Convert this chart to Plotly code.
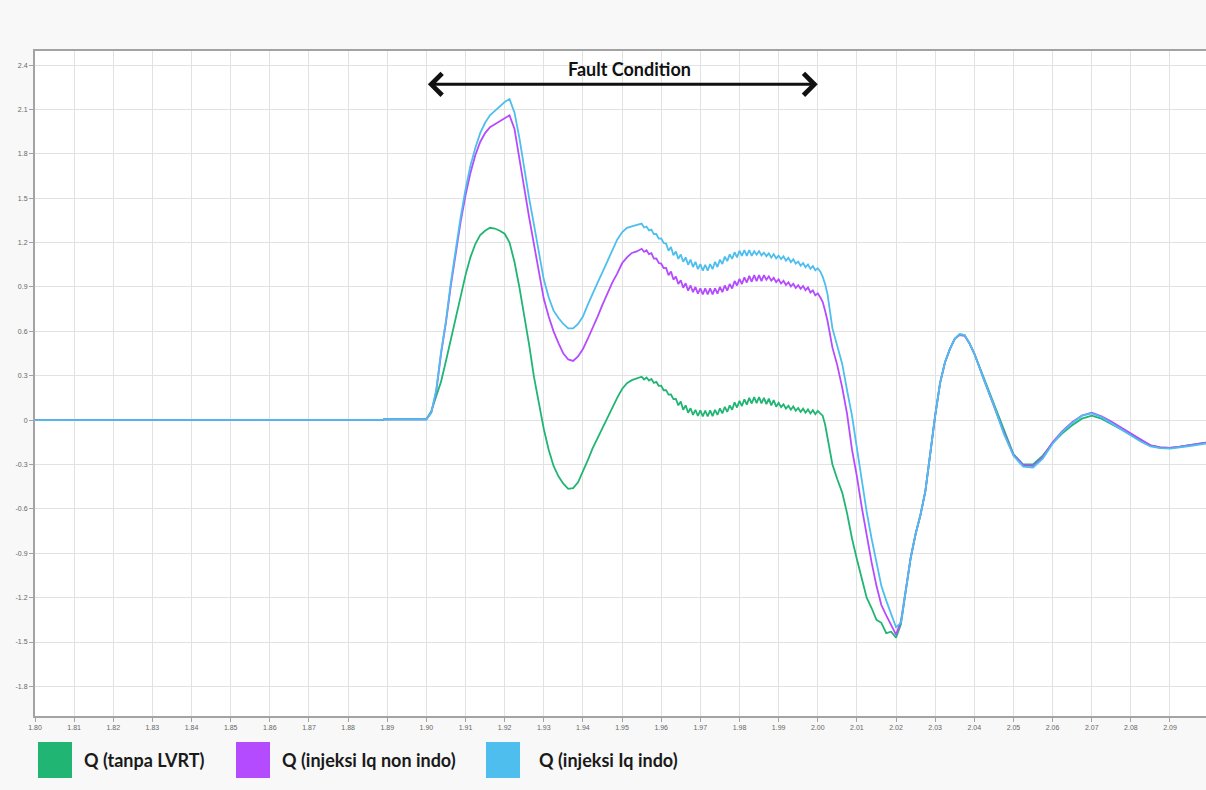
import plotly.graph_objects as go

# ---------------- data ----------------
time_s = [
    1.800, 1.849, 1.8492, 1.870, 1.8705, 1.889, 1.8892,
    1.90000, 1.90125, 1.90250, 1.90375, 1.90500, 1.90625, 1.90750, 1.90875,
    1.91000, 1.91125, 1.91250, 1.91375, 1.91500, 1.91625, 1.91750, 1.91875,
    1.92000, 1.92125, 1.92250, 1.92375, 1.92500, 1.92625, 1.92750, 1.92875,
    1.93000, 1.93125, 1.93250, 1.93375, 1.93500, 1.93625, 1.93750, 1.93875,
    1.94000, 1.94125, 1.94250, 1.94375, 1.94500, 1.94625, 1.94750, 1.94875,
    1.95000, 1.95125, 1.95250, 1.95375,
    1.955000, 1.955625, 1.956250, 1.956875, 1.957500, 1.958125, 1.958750, 1.959375,
    1.960000, 1.960625, 1.961250, 1.961875, 1.962500, 1.963125, 1.963750, 1.964375,
    1.965000, 1.965625, 1.966250, 1.966875, 1.967500, 1.968125, 1.968750, 1.969375,
    1.970000, 1.970625, 1.971250, 1.971875, 1.972500, 1.973125, 1.973750, 1.974375,
    1.975000, 1.975625, 1.976250, 1.976875, 1.977500, 1.978125, 1.978750, 1.979375,
    1.980000, 1.980625, 1.981250, 1.981875, 1.982500, 1.983125, 1.983750, 1.984375,
    1.985000, 1.985625, 1.986250, 1.986875, 1.987500, 1.988125, 1.988750, 1.989375,
    1.990000, 1.990625, 1.991250, 1.991875, 1.992500, 1.993125, 1.993750, 1.994375,
    1.995000, 1.995625, 1.996250, 1.996875, 1.997500, 1.998125, 1.998750, 1.999375,
    2.000000, 2.000625, 2.001250, 2.001875, 2.002500,
    2.00375, 2.00500, 2.00625, 2.00750, 2.00875, 2.01000, 2.01125, 2.01250,
    2.01375, 2.01500, 2.01625, 2.01750, 2.01875, 2.02000, 2.02125, 2.02250,
    2.02375, 2.02500, 2.02625, 2.02750, 2.02875, 2.03000, 2.03125, 2.03250,
    2.03375, 2.03500, 2.03625, 2.03750, 2.03875, 2.04000,
    2.0425, 2.0450, 2.0475, 2.0500, 2.0525, 2.0550, 2.0575, 2.0600,
    2.0625, 2.0650, 2.0675, 2.0700, 2.0725, 2.0750, 2.0775, 2.0800,
    2.0825, 2.0850, 2.0875, 2.0900, 2.0925, 2.0950, 2.0975, 2.1000,
]

q_tanpa_lvrt = [
    0, 0, 0.005, 0.005, 0.002, 0.002, 0.006,
    0.006, 0.06, 0.16, 0.26, 0.40, 0.55, 0.70, 0.85,
    0.98, 1.10, 1.19, 1.25, 1.28, 1.30, 1.295, 1.28,
    1.26, 1.20, 1.07, 0.90, 0.71, 0.51, 0.29, 0.12,
    -0.06, -0.20, -0.31, -0.38, -0.43, -0.465, -0.46, -0.42,
    -0.35, -0.27, -0.19, -0.12, -0.05, 0.02, 0.09, 0.15,
    0.21, 0.25, 0.27, 0.28,
    0.293, 0.275, 0.288, 0.267, 0.278, 0.252, 0.258, 0.232,
    0.233, 0.202, 0.203, 0.172, 0.173, 0.142, 0.143, 0.10,
    0.125, 0.07, 0.10, 0.05, 0.08, 0.035, 0.07, 0.028,
    0.066, 0.025, 0.065, 0.025, 0.066, 0.027, 0.07, 0.035,
    0.08, 0.045, 0.09, 0.055, 0.10, 0.07, 0.12, 0.085,
    0.13, 0.095, 0.14, 0.105, 0.15, 0.112, 0.155, 0.115,
    0.155, 0.113, 0.15, 0.108, 0.145, 0.10, 0.135, 0.09,
    0.117, 0.088, 0.107, 0.078, 0.097, 0.07, 0.092, 0.063,
    0.082, 0.055, 0.077, 0.05, 0.072, 0.045, 0.067, 0.04,
    0.062, 0.045, 0.03, -0.03, -0.12,
    -0.30, -0.40, -0.49, -0.63, -0.80, -0.94, -1.08, -1.20,
    -1.27, -1.35, -1.37, -1.44, -1.43, -1.47, -1.38, -1.16,
    -0.93, -0.77, -0.64, -0.48, -0.22, 0.03, 0.25, 0.39,
    0.48, 0.55, 0.58, 0.575, 0.52, 0.45,
    0.28, 0.11, -0.07, -0.23, -0.30, -0.30, -0.24, -0.155,
    -0.09, -0.035, 0.01, 0.03, 0.01, -0.025, -0.06, -0.10,
    -0.135, -0.17, -0.185, -0.187, -0.18, -0.17, -0.16, -0.15,
]

q_injeksi_non_indo = [
    0, 0, 0.005, 0.005, 0.002, 0.002, 0.006,
    0.006, 0.05, 0.19, 0.45, 0.66, 0.91, 1.13, 1.34,
    1.52, 1.67, 1.79, 1.88, 1.94, 1.98, 2.00, 2.02,
    2.04, 2.06, 1.97, 1.78, 1.57, 1.37, 1.18, 1.00,
    0.82, 0.70, 0.60, 0.52, 0.45, 0.41, 0.40, 0.43,
    0.48, 0.55, 0.62, 0.70, 0.78, 0.86, 0.93, 0.99,
    1.06, 1.10, 1.13, 1.14,
    1.158, 1.137, 1.148, 1.122, 1.128, 1.092, 1.093, 1.062,
    1.058, 1.027, 1.028, 0.98, 1.005, 0.95, 0.97, 0.92,
    0.945, 0.895, 0.925, 0.875, 0.91, 0.865, 0.90, 0.855,
    0.89, 0.85, 0.89, 0.85, 0.89, 0.85, 0.89, 0.855,
    0.90, 0.865, 0.91, 0.875, 0.92, 0.89, 0.94, 0.91,
    0.955, 0.92, 0.965, 0.93, 0.975, 0.935, 0.98, 0.94,
    0.98, 0.94, 0.98, 0.948, 0.972, 0.943, 0.962, 0.933,
    0.952, 0.923, 0.942, 0.913, 0.932, 0.903, 0.922, 0.893,
    0.912, 0.888, 0.907, 0.878, 0.897, 0.863, 0.877, 0.843,
    0.857, 0.83, 0.80, 0.74, 0.67,
    0.49, 0.37, 0.22, 0.04, -0.20, -0.38, -0.59, -0.78,
    -0.96, -1.12, -1.25, -1.32, -1.38, -1.45, -1.36, -1.16,
    -0.93, -0.77, -0.64, -0.48, -0.22, 0.03, 0.25, 0.39,
    0.48, 0.55, 0.575, 0.57, 0.52, 0.45,
    0.27, 0.10, -0.08, -0.235, -0.305, -0.31, -0.25, -0.15,
    -0.075, -0.015, 0.03, 0.05, 0.025, -0.01, -0.05, -0.095,
    -0.135, -0.17, -0.185, -0.188, -0.18, -0.17, -0.16, -0.15,
]

q_injeksi_indo = [
    0, 0, 0.005, 0.005, 0.002, 0.002, 0.006,
    0.006, 0.05, 0.20, 0.46, 0.67, 0.93, 1.16, 1.37,
    1.56, 1.72, 1.84, 1.94, 2.01, 2.06, 2.09, 2.12,
    2.15, 2.17, 2.08, 1.91, 1.70, 1.50, 1.32, 1.13,
    0.95, 0.83, 0.74, 0.69, 0.65, 0.62, 0.62, 0.65,
    0.70, 0.78, 0.86, 0.93, 1.00, 1.07, 1.14, 1.22,
    1.27, 1.30, 1.31, 1.32,
    1.328, 1.302, 1.308, 1.282, 1.288, 1.257, 1.258, 1.227,
    1.228, 1.197, 1.193, 1.145, 1.17, 1.115, 1.14, 1.09,
    1.12, 1.07, 1.10, 1.05, 1.085, 1.035, 1.07, 1.02,
    1.055, 1.01, 1.05, 1.01, 1.055, 1.02, 1.07, 1.035,
    1.085, 1.055, 1.105, 1.075, 1.12, 1.09, 1.135, 1.10,
    1.145, 1.11, 1.15, 1.11, 1.15, 1.11, 1.142, 1.118,
    1.142, 1.113, 1.132, 1.108, 1.127, 1.098, 1.122, 1.093,
    1.112, 1.088, 1.107, 1.078, 1.097, 1.068, 1.087, 1.058,
    1.072, 1.043, 1.062, 1.033, 1.052, 1.023, 1.042, 1.013,
    1.027, 1.005, 0.97, 0.92, 0.85,
    0.62, 0.49, 0.38, 0.20, 0.03, -0.19, -0.42, -0.62,
    -0.80, -0.97, -1.12, -1.22, -1.31, -1.40, -1.37, -1.16,
    -0.93, -0.77, -0.64, -0.48, -0.22, 0.03, 0.25, 0.39,
    0.48, 0.55, 0.58, 0.575, 0.52, 0.45,
    0.27, 0.10, -0.09, -0.24, -0.315, -0.32, -0.26, -0.16,
    -0.08, -0.02, 0.03, 0.045, 0.02, -0.02, -0.06, -0.105,
    -0.145, -0.178, -0.19, -0.192, -0.185, -0.175, -0.165, -0.155,
]

series_names = ["Q (tanpa LVRT)", "Q (injeksi Iq non indo)", "Q (injeksi Iq indo)"]
series_colors = ["#21b573", "#b44bff", "#4dbeee"]
y_tick_values = [2.4, 2.1, 1.8, 1.5, 1.2, 0.9, 0.6, 0.3, 0, -0.3, -0.6, -0.9, -1.2, -1.5, -1.8]
y_tick_labels = ["2.4", "2.1", "1.8", "1.5", "1.2", "0.9", "0.6", "0.3", "0",
                 "-0.3", "-0.6", "-0.9", "-1.2", "-1.5", "-1.8"]
fault_start, fault_end = 1.90, 2.00
fault_label = "Fault Condition"

# ---------------- figure ----------------
W, H = 1206, 790
ML, MR, MT, MB = 35, 0, 51, 74
PW, PH = W - ML - MR, H - MT - MB

fig = go.Figure()
for name, vals, col in zip(series_names,
                           [q_tanpa_lvrt, q_injeksi_non_indo, q_injeksi_indo],
                           series_colors):
    fig.add_trace(go.Scatter(x=time_s, y=vals, mode="lines", name=name,
                             line=dict(color=col, width=1.8), showlegend=False))

axis_col = "#a3a3a3"
grid_col = "#e2e2e2"
tick_font = dict(family="Liberation Sans, Arial, sans-serif", size=7, color="#666666")

fig.update_layout(
    width=W, height=H,
    margin=dict(l=ML, r=MR, t=MT, b=MB, pad=0),
    paper_bgcolor="#f8f8f8",
    plot_bgcolor="#ffffff",
    showlegend=False,
    xaxis=dict(range=[1.80, 2.0992], tick0=1.80, dtick=0.01, tickformat=".2f",
               showgrid=True, gridcolor=grid_col, gridwidth=1,
               showline=True, linecolor=axis_col, linewidth=2, mirror=True,
               ticks="outside", ticklen=4, tickcolor=axis_col,
               zeroline=False, tickfont=tick_font),
    yaxis=dict(range=[-2.0, 2.495], tickmode="array",
               tickvals=y_tick_values, ticktext=y_tick_labels,
               showgrid=True, gridcolor=grid_col, gridwidth=1,
               showline=True, linecolor=axis_col, linewidth=2,
               ticks="outside", ticklen=4, tickcolor=axis_col,
               zeroline=False, tickfont=tick_font),
)

# Fault condition double arrow + label
fig.add_annotation(x=fault_end, y=2.27, ax=fault_start, ay=2.27,
                   xref="x", yref="y", axref="x", ayref="y",
                   text="", showarrow=True, arrowside="end+start",
                   arrowhead=4, startarrowhead=4, arrowsize=1.4, startarrowsize=1.4,
                   arrowwidth=3, arrowcolor="#111111", standoff=0, startstandoff=0)
fig.add_annotation(x=1.952, y=2.37, xref="x", yref="y", showarrow=False,
                   text="<b>" + fault_label + "</b>",
                   font=dict(family="Lato, sans-serif", size=18, color="#111111"))

# Custom legend (large colour swatches below the plot), positions in page pixels
def px_x(p):
    return (p - ML) / PW

def px_y(p):
    return (H - MB - p) / PH

legend_items = [(38, 82), (236, 280), (486, 537)]
for (sx, tx), name, col in zip(legend_items, series_names, series_colors):
    fig.add_shape(type="rect", xref="paper", yref="paper",
                  x0=px_x(sx), x1=px_x(sx + 34), y0=px_y(778), y1=px_y(742),
                  fillcolor=col, line=dict(width=0))
    fig.add_annotation(x=px_x(tx), y=px_y(760), xref="paper", yref="paper",
                       xanchor="left", yanchor="middle", showarrow=False,
                       text="<b>" + name + "</b>",
                       font=dict(family="Lato, sans-serif", size=18, color="#1a1a1a"))

fig.write_html("out.html",
               config={"displayModeBar": False},
               post_script="document.body.style.margin='0';"
                           "document.body.style.overflow='hidden';")
